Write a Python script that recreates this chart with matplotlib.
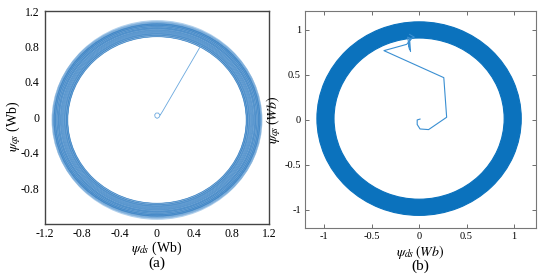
import matplotlib
matplotlib.use("Agg")
import matplotlib.pyplot as plt
from matplotlib.patches import Ellipse, Wedge

plt.rcParams["font.family"] = ["Liberation Serif", "DejaVu Serif"]
plt.rcParams["mathtext.fontset"] = "stix"
plt.rcParams["axes.unicode_minus"] = False

# Panel (a): flux locus ring, drawn as many thin traces (x radius, alpha)
ring_a_rx = [0.955, 0.959, 0.966, 0.971, 0.973, 0.981, 0.986, 0.992, 0.994, 1.003,
             1.011, 1.014, 1.022, 1.027, 1.033, 1.036, 1.045, 1.049, 1.055, 1.058,
             1.066, 1.072, 1.074, 1.083, 1.088, 1.091, 1.099, 1.104, 1.108, 1.117, 1.126]
ring_a_alpha = [0.9, 0.7, 0.5, 0.8, 0.6, 0.5, 0.7, 0.5, 0.6, 0.8,
                0.5, 0.6, 0.7, 0.5, 0.6, 0.5, 0.7, 0.6, 0.5, 0.8,
                0.6, 0.7, 0.5, 0.8, 0.6, 0.7, 0.9, 0.7, 0.6, 0.5, 0.4]
ring_a_ratio = 0.982
ring_a_cy = -0.028

# Panel (a): start-up trajectory
traj_a_x = [0.03, 0.015, -0.01, -0.025, -0.02, 0.0, 0.02, 0.03, 0.06, 0.47]
traj_a_y = [0.03, 0.05, 0.05, 0.03, 0.005, -0.01, 0.0, 0.02, 0.07, 0.81]

# Panel (b): solid flux ring
ring_b_center = (0.0, 0.015)
ring_b_outer = 1.075
ring_b_inner = 0.895

# Panel (b): start-up trajectory
traj_b_x = [0.01, -0.02, -0.02, 0.01, 0.1, 0.29, 0.26, -0.37, -0.13, -0.1, -0.08, -0.12,
            -0.1, -0.11, -0.09, -0.1, -0.05, -0.1]
traj_b_y = [0.01, 0.0, -0.05, -0.1, -0.107, 0.03, 0.47, 0.77, 0.84, 0.88, 0.9, 0.92,
            0.78, 0.86, 0.76, 0.9, 0.92, 0.95]

ticks_a_x = [-1.2, -0.8, -0.4, 0, 0.4, 0.8, 1.2]
ticks_a_y = [-0.8, -0.4, 0, 0.4, 0.8, 1.2]
ticks_b = [-1, -0.5, 0, 0.5, 1]

fig = plt.figure(figsize=(5.44, 2.75), dpi=100)

# Left panel.
ax1 = fig.add_axes([0.0827, 0.1855, 0.4118, 0.7745])
ax1.add_patch(Wedge((0, ring_a_cy), 1.125, 0, 360, width=0.17,
                    facecolor="#7fb2e0", edgecolor="none", alpha=0.6))
for rx, al in zip(ring_a_rx, ring_a_alpha):
    ax1.add_patch(Ellipse((0, ring_a_cy), 2 * rx, 2 * rx * ring_a_ratio,
                          fill=False, edgecolor="#2474bd", linewidth=0.45, alpha=al))
ax1.plot(traj_a_x, traj_a_y, color="#6aa8de", linewidth=0.6)
ax1.set_xlim(-1.2, 1.2)
ax1.set_ylim(-1.2, 1.2)
ax1.set_xticks(ticks_a_x)
ax1.set_xticklabels(["-1.2", "-0.8", "-0.4", "0", "0.4", "0.8", "1.2"])
ax1.set_yticks(ticks_a_y)
ax1.set_yticklabels(["-0.8", "-0.4", "0", "0.4", "0.8", "1.2"])
ax1.tick_params(length=0, labelsize=8.5, pad=3)
ax1.tick_params(axis="y", pad=4)
for sp in ax1.spines.values():
    sp.set_color("#444444")
    sp.set_linewidth(1.0)
ax1.set_xlabel(r"$\psi_{ds}$ (Wb)", fontsize=10, labelpad=0)
ax1.set_ylabel(r"$\psi_{qs}$ (Wb)", fontsize=10)
ax1.yaxis.set_label_coords(-0.10, 0.46)
fig.text(0.289, 0.042, "(a)", fontsize=11, ha="center", va="center")

# Right panel.
ax2 = fig.add_axes([0.5607, 0.1709, 0.4246, 0.789])
ax2.add_patch(Wedge(ring_b_center, ring_b_outer, 0, 360,
                    width=ring_b_outer - ring_b_inner,
                    facecolor="#0b72bd", edgecolor="#0b72bd", linewidth=0.8))
ax2.plot(traj_b_x, traj_b_y, color="#3a8fd2", linewidth=0.8)
ax2.set_xlim(-1.2, 1.23)
ax2.set_ylim(-1.2, 1.21)
ax2.set_xticks(ticks_b)
ax2.set_xticklabels(["-1", "-0.5", "0", "0.5", "1"])
ax2.set_yticks(ticks_b)
ax2.set_yticklabels(["-1", "-0.5", "0", "0.5", "1"])
ax2.tick_params(direction="in", length=3, width=0.6, color="#555555",
                labelsize=7.5, pad=3, top=True, right=True)
for sp in ax2.spines.values():
    sp.set_color("#777777")
    sp.set_linewidth(0.8)
ax2.set_xlabel(r"$\psi_{ds}\,(Wb)$", fontsize=10, labelpad=1)
ax2.set_ylabel(r"$\psi_{qs}\,(Wb)$", fontsize=10, labelpad=1)
fig.text(0.772, 0.032, "(b)", fontsize=11, ha="center", va="center")

fig.savefig("out.png", dpi=100)
